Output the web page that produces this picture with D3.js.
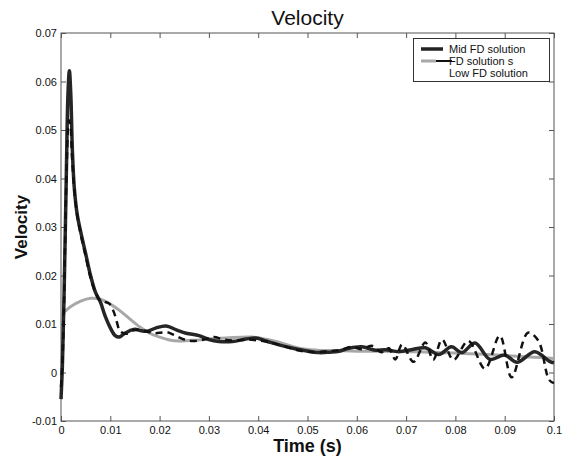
<!DOCTYPE html>
<html>
<head>
<meta charset="utf-8">
<script src="https://cdn.jsdelivr.net/npm/d3@7"></script>
<style>
  body { margin: 0; background: #fff; }
  text { font-family: "Liberation Sans", Arial, sans-serif; }
</style>
</head>
<body>
<div id="chart"></div>
<script>
// datos
const midT = [0, 0.0003, 0.0007, 0.0011, 0.0014, 0.0017, 0.0020, 0.0023, 0.0027, 0.0033, 0.0040, 0.0050, 0.0060, 0.0070, 0.0080, 0.0090, 0.0100, 0.0110, 0.0118, 0.0128, 0.0139, 0.0150, 0.0163, 0.0175, 0.0193, 0.0213, 0.0234, 0.0254, 0.0280, 0.0300, 0.0320, 0.0348, 0.0375, 0.0395, 0.0416, 0.0442, 0.0470, 0.0496, 0.0523, 0.0545, 0.0564, 0.0584, 0.0610, 0.0638, 0.0658, 0.0685, 0.0711, 0.0739, 0.0766, 0.0792, 0.0813, 0.0840, 0.0870, 0.0900, 0.0925, 0.0961, 0.0991, 0.1]
const midV = [-0.0055, 0.002, 0.02, 0.042, 0.057, 0.0622, 0.057, 0.046, 0.038, 0.0325, 0.029, 0.0245, 0.020, 0.0165, 0.0145, 0.0115, 0.0092, 0.0076, 0.0073, 0.0080, 0.0086, 0.0089, 0.0086, 0.0085, 0.0092, 0.0096, 0.0088, 0.0081, 0.0076, 0.0068, 0.0064, 0.0064, 0.0069, 0.0071, 0.0065, 0.0057, 0.0050, 0.0045, 0.0041, 0.0042, 0.0044, 0.0050, 0.0053, 0.0046, 0.0047, 0.0043, 0.0047, 0.0051, 0.0037, 0.0053, 0.0041, 0.0061, 0.0027, 0.0036, 0.0021, 0.0043, 0.0023, 0.0020]

const fdT = [0, 0.0004, 0.0008, 0.0012, 0.0016, 0.0019, 0.0022, 0.0026, 0.0032, 0.0040, 0.0050, 0.0060, 0.0070, 0.0078, 0.0088, 0.0098, 0.0107, 0.0113, 0.0120, 0.0133, 0.0147, 0.0160, 0.0173, 0.0187, 0.0200, 0.0215, 0.0230, 0.0250, 0.0268, 0.0290, 0.0310, 0.0330, 0.0355, 0.0380, 0.0400, 0.0420, 0.0450, 0.0480, 0.0510, 0.0540, 0.0565, 0.0590, 0.0610, 0.0630, 0.0650, 0.0665, 0.0678, 0.0692, 0.0715, 0.0739, 0.0755, 0.0773, 0.0796, 0.0826, 0.0860, 0.0890, 0.0914, 0.0947, 0.0968, 0.0990, 0.1]
const fdV = [-0.003, 0.005, 0.025, 0.044, 0.052, 0.051, 0.045, 0.039, 0.033, 0.0285, 0.024, 0.0195, 0.0165, 0.015, 0.0146, 0.0142, 0.0125, 0.0105, 0.0085, 0.0080, 0.0087, 0.0088, 0.0085, 0.0081, 0.0082, 0.0083, 0.0077, 0.0068, 0.0065, 0.0068, 0.0073, 0.0068, 0.0066, 0.0068, 0.0066, 0.0063, 0.0055, 0.0046, 0.0042, 0.0044, 0.0046, 0.0053, 0.0048, 0.0055, 0.0042, 0.0050, 0.0027, 0.0058, 0.0022, 0.0062, 0.0026, 0.0068, 0.0026, 0.0065, 0.0008, 0.0076, -0.0010, 0.0082, 0.0066, -0.0015, -0.0022]

const lowT = [0, 0.001, 0.002, 0.004, 0.006, 0.008, 0.010, 0.012, 0.014, 0.016, 0.018, 0.020, 0.022, 0.024, 0.026, 0.028, 0.030, 0.0335, 0.0388, 0.0436, 0.0483, 0.052, 0.056, 0.060, 0.065, 0.070, 0.075, 0.080, 0.085, 0.090, 0.095, 0.1]
const lowV = [0.0121, 0.0128, 0.0136, 0.0147, 0.0153, 0.0151, 0.0141, 0.0127, 0.0110, 0.0094, 0.0081, 0.0073, 0.0067, 0.0065, 0.0066, 0.0067, 0.0069, 0.0071, 0.0073, 0.0064, 0.0050, 0.0046, 0.0045, 0.0044, 0.0044, 0.0043, 0.0042, 0.0040, 0.0038, 0.0035, 0.0032, 0.0029]

const xTicks = [0, 0.01, 0.02, 0.03, 0.04, 0.05, 0.06, 0.07, 0.08, 0.09, 0.1]
const yTicks = [-0.01, 0, 0.01, 0.02, 0.03, 0.04, 0.05, 0.06, 0.07]
const legendNames = ["Mid FD solution", "FD solution s", "Low FD solution"]

// constantes
const width = 568
const height = 457
const margin = { top: 33, bottom: 36, left: 61, right: 14 }
const w = width - margin.left - margin.right
const h = height - margin.top - margin.bottom

const svg = d3.select("#chart").append("svg").attr("width", width).attr("height", height)
const g = svg.append("g").attr("transform", `translate(${margin.left}, ${margin.top})`)

const x = d3.scaleLinear().domain([0, 0.1]).range([0, w])
const y = d3.scaleLinear().domain([-0.01, 0.07]).range([h, 0])

// ejes estilo matlab (ticks hacia dentro)
const xAxis = d3.axisBottom(x).tickValues(xTicks).tickSizeInner(-5).tickSizeOuter(0).tickPadding(5).tickFormat(d => d === 0 ? "0" : d)
const yAxis = d3.axisLeft(y).tickValues(yTicks).tickSizeInner(-5).tickSizeOuter(0).tickPadding(4).tickFormat(d => d === 0 ? "0" : d)
const xTop = d3.axisTop(x).tickValues(xTicks).tickSizeInner(-5).tickSizeOuter(0).tickFormat("")
const yRight = d3.axisRight(y).tickValues(yTicks).tickSizeInner(-5).tickSizeOuter(0).tickFormat("")

g.append("g").attr("transform", `translate(0, ${h})`).call(xAxis)
g.append("g").call(yAxis)
g.append("g").call(xTop)
g.append("g").attr("transform", `translate(${w}, 0)`).call(yRight)
g.selectAll(".domain").remove()
g.selectAll(".tick line").attr("stroke", "#555")
g.selectAll(".tick text").attr("font-size", 11).attr("fill", "#111").style("font-family", "Liberation Sans, Arial, sans-serif")
g.append("rect").attr("width", w).attr("height", h).attr("fill", "none").attr("stroke", "#555").attr("stroke-width", 1)

// lineas
const line = d3.line().x(d => x(d[0])).y(d => y(d[1])).curve(d3.curveCatmullRom.alpha(0.5))
const lowData = d3.zip(lowT, lowV)
const midData = d3.zip(midT, midV)
const fdData = d3.zip(fdT, fdV)

g.append("path").datum(lowData).attr("d", line).attr("fill", "none").attr("stroke", "#a8a8a8").attr("stroke-width", 3)
g.append("path").datum(midData).attr("d", line).attr("fill", "none").attr("stroke", "#262626").attr("stroke-width", 3.5)
g.append("path").datum(fdData).attr("d", line).attr("fill", "none").attr("stroke", "#111").attr("stroke-width", 2.5).attr("stroke-dasharray", "7,5")

// leyenda
const leg = svg.append("g")
leg.append("rect").attr("x", 413.5).attr("y", 38.5).attr("width", 136).attr("height", 43).attr("fill", "#fff").attr("stroke", "#333").attr("stroke-width", 1)
leg.selectAll("text").data(legendNames).join("text")
    .attr("x", 449).attr("y", (d, i) => 53 + i * 11.8)
    .attr("font-size", 11).attr("fill", "#111").text(d => d)
leg.append("line").attr("x1", 421).attr("x2", 443).attr("y1", 49).attr("y2", 49).attr("stroke", "#222").attr("stroke-width", 3.5)
leg.append("line").attr("x1", 421).attr("x2", 436).attr("y1", 61).attr("y2", 61).attr("stroke", "#a8a8a8").attr("stroke-width", 3)
leg.append("line").attr("x1", 436).attr("x2", 452).attr("y1", 61).attr("y2", 61).attr("stroke", "#111").attr("stroke-width", 2)

// titulos
svg.append("text").attr("x", margin.left + w / 2).attr("y", 25).attr("text-anchor", "middle").attr("font-size", 21).attr("fill", "#111").text("Velocity")
svg.append("text").attr("x", margin.left + w / 2).attr("y", 452).attr("text-anchor", "middle").attr("font-size", 18).attr("font-weight", "bold").attr("fill", "#111").text("Time (s)")
svg.append("text").attr("transform", `translate(27, ${margin.top + h / 2}) rotate(-90)`).attr("text-anchor", "middle").attr("font-size", 17).attr("font-weight", "bold").attr("fill", "#111").text("Velocity")
</script>
</body>
</html>
